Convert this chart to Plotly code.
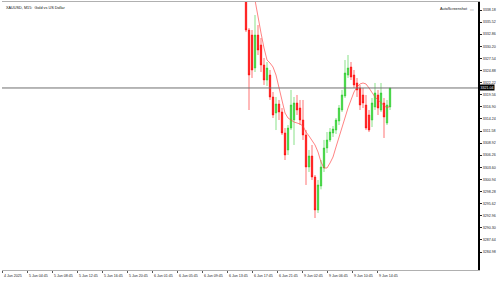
import plotly.graph_objects as go

# ---- data ----
title_text = "XAUUSD, M15:  Gold vs US Dollar"
opens = [3342.58, 3333.78, 3332.67, 3325.43, 3332.67, 3330.49, 3326.09, 3322.79, 3323.89, 3319.06,
         3315.54, 3317.52, 3315.76, 3311.15, 3307.41, 3312.24, 3314.00, 3317.74, 3316.64, 3314.00,
         3310.71, 3303.67, 3306.09, 3301.47, 3294.22, 3299.50, 3303.45, 3307.85, 3309.61, 3311.15,
         3311.80, 3313.78, 3316.20, 3319.28, 3323.89, 3325.65, 3323.89, 3322.14, 3321.04, 3319.50,
         3317.30, 3315.10, 3314.00, 3316.86, 3319.50, 3316.20, 3317.74, 3313.34, 3316.86]
highs = [3343.02, 3334.22, 3333.78, 3337.08, 3334.88, 3332.03, 3327.63, 3326.75, 3324.99, 3320.16,
         3319.06, 3318.40, 3316.64, 3312.24, 3312.90, 3320.60, 3319.06, 3319.50, 3318.40, 3318.40,
         3311.80, 3307.41, 3308.51, 3301.91, 3300.81, 3305.21, 3309.61, 3311.36, 3312.24, 3312.68,
         3314.44, 3317.30, 3320.60, 3327.19, 3328.29, 3326.75, 3324.99, 3323.24, 3321.70, 3321.04,
         3319.50, 3316.20, 3318.84, 3322.14, 3320.60, 3322.14, 3318.84, 3318.40, 3321.04]
lows = [3333.34, 3316.20, 3323.24, 3324.55, 3328.29, 3324.55, 3321.70, 3321.48, 3318.40, 3314.44,
        3311.80, 3314.00, 3310.71, 3305.21, 3306.31, 3311.80, 3308.51, 3315.10, 3312.90, 3309.61,
        3299.72, 3302.57, 3300.81, 3292.46, 3293.56, 3298.76, 3302.57, 3306.75, 3309.17, 3310.27,
        3310.93, 3312.90, 3315.76, 3318.84, 3323.24, 3322.79, 3321.04, 3319.06, 3316.20, 3316.64,
        3311.80, 3311.36, 3312.46, 3316.20, 3315.10, 3315.76, 3310.05, 3312.90, 3316.20]
closes = [3333.78, 3323.89, 3324.99, 3332.67, 3329.39, 3326.09, 3322.79, 3325.43, 3319.06, 3315.10,
          3317.52, 3315.76, 3311.15, 3306.31, 3312.24, 3317.30, 3317.74, 3316.20, 3314.00, 3310.71,
          3303.67, 3306.09, 3301.47, 3294.22, 3299.72, 3303.67, 3307.85, 3309.61, 3311.36, 3312.02,
          3314.00, 3316.64, 3319.50, 3324.33, 3325.43, 3323.45, 3321.70, 3320.60, 3317.30, 3317.74,
          3312.24, 3311.80, 3317.74, 3319.94, 3316.64, 3319.94, 3314.66, 3317.30, 3321.04]
ma_values = [3349.17, 3345.87, 3342.58, 3340.38, 3336.42, 3333.12, 3329.83, 3327.19, 3326.53, 3325.65,
             3323.89, 3321.04, 3317.74, 3315.54, 3314.44, 3314.00, 3313.56, 3313.34, 3313.12, 3312.68,
             3311.36, 3310.49, 3309.61, 3308.51, 3306.97, 3304.77, 3303.45, 3303.45, 3304.55, 3305.87,
             3308.07, 3310.27, 3312.24, 3314.44, 3316.64, 3318.40, 3320.16, 3321.26, 3321.92, 3322.14,
             3321.92, 3321.04, 3319.94, 3319.06, 3318.40, 3317.74, 3317.30, 3316.64, 3317.07]
price_ticks = [3338.18, 3335.52, 3332.86, 3330.20, 3327.54, 3324.88, 3322.22, 3319.56, 3316.90,
               3314.24, 3311.58, 3308.92, 3306.26, 3303.60, 3300.94, 3298.28, 3295.62, 3292.96,
               3290.30, 3287.64, 3284.98]
time_labels = ["4 Jun 2025", "5 Jun 04:45", "5 Jun 08:45", "5 Jun 12:45", "5 Jun 16:45",
               "5 Jun 20:45", "6 Jun 01:45", "6 Jun 05:45", "6 Jun 09:45", "6 Jun 13:45",
               "6 Jun 17:45", "6 Jun 21:45", "9 Jun 02:45", "9 Jun 06:45", "9 Jun 10:45",
               "9 Jun 14:45"]
current_price = 3321.04

# ---- layout helpers ----
n = len(closes)
xs = list(range(n))
X_MIN, X_MAX = -81.33, 77.33
Y_MIN, Y_MAX = 3281.03, 3339.94
label_step = 25 / 3.0
label_x = [X_MIN + 0.01 + k * label_step for k in range(len(time_labels))]

fig = go.Figure()
fig.add_trace(go.Candlestick(
    x=xs, open=opens, high=highs, low=lows, close=closes,
    increasing=dict(line=dict(color="rgba(40,200,40,0.55)", width=1), fillcolor="#33d633"),
    decreasing=dict(line=dict(color="rgba(255,0,0,0.55)", width=1), fillcolor="#ff0000"),
    whiskerwidth=0, showlegend=False, hoverinfo="skip"))
fig.add_trace(go.Scatter(x=xs, y=ma_values, mode="lines",
                         line=dict(color="rgba(255,60,60,0.8)", width=0.8),
                         showlegend=False, hoverinfo="skip"))

fig.add_hline(y=current_price, line=dict(color="#707070", width=1))

FONT = "Liberation Sans, Arial, sans-serif"
fig.update_layout(
    width=500, height=281,
    margin=dict(l=2, r=22, t=2, b=11),
    paper_bgcolor="white", plot_bgcolor="white",
    xaxis=dict(range=[X_MIN, X_MAX], showgrid=False, zeroline=False, rangeslider=dict(visible=False),
               tickvals=label_x, showticklabels=False, ticks="outside", ticklen=2, tickcolor="#555",
               showline=True, linecolor="#b0b0b0", linewidth=1, mirror=True),
    yaxis=dict(range=[Y_MIN, Y_MAX], side="right", showgrid=False, zeroline=False,
               tickvals=price_ticks, ticktext=[f"{v:.2f}" for v in price_ticks],
               ticks="outside", ticklen=2, tickcolor="#222",
               tickfont=dict(size=3.6, color="#222", family=FONT),
               showline=True, linecolor="#000", linewidth=2),
)

for lx, txt in zip(label_x, time_labels):
    fig.add_annotation(x=lx, y=0, xref="x", yref="paper", yanchor="top", xanchor="left",
                       yshift=-2, xshift=0, text=txt, showarrow=False,
                       font=dict(size=3.6, color="#222", family=FONT))

fig.add_annotation(x=0, y=1, xref="paper", yref="paper", xanchor="left", yanchor="top",
                   xshift=2, yshift=-2, text=title_text, showarrow=False,
                   font=dict(size=3.8, color="#111", family=FONT))
fig.add_annotation(x=1, y=1, xref="paper", yref="paper", xanchor="right", yanchor="top",
                   xshift=-8, yshift=-3, text="AutoScreenshot", showarrow=False,
                   font=dict(size=3.8, color="#111", family=FONT))
fig.add_annotation(x=1, y=1, xref="paper", yref="paper", xanchor="right", yanchor="top",
                   xshift=-2, yshift=-3, text="▭", showarrow=False,
                   font=dict(size=4, color="#999", family=FONT))
fig.add_annotation(x=1, y=current_price, xref="paper", yref="y", xanchor="left", yanchor="middle",
                   xshift=1, text=f"{current_price:.2f}", showarrow=False, bgcolor="#000",
                   borderpad=0.5, font=dict(size=3.6, color="#fff", family=FONT))

fig.write_html("out.html")
